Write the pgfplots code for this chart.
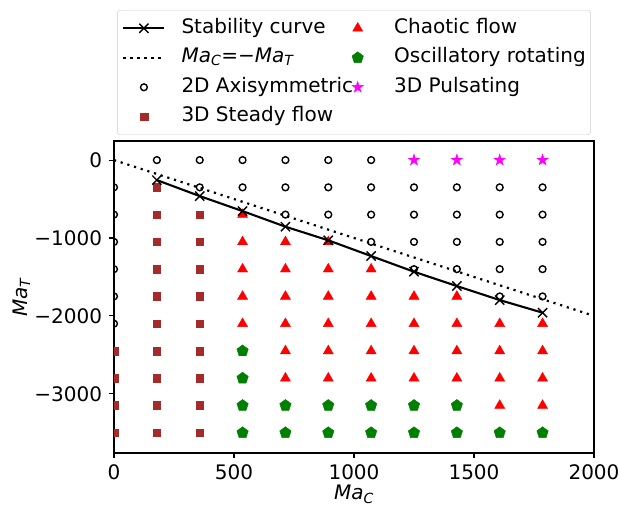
\documentclass[border=0pt]{standalone}
\usepackage{fontspec}
\setmainfont{DejaVu Sans}[ItalicFont={DejaVu Sans Oblique}]
\usepackage{pgfplots}
\pgfplotsset{compat=1.18}

\definecolor{cbrown}{HTML}{A52A2A}
\definecolor{cred}{HTML}{FF0000}
\definecolor{cgreen}{HTML}{008000}
\definecolor{cmag}{HTML}{FF00FF}

% filled five-point star, like matplotlib's '*'
\pgfdeclareplotmark{fstar}{%
  \pgfpathmoveto{\pgfpointpolar{90}{\pgfplotmarksize}}%
  \pgfpathlineto{\pgfpointpolar{126}{0.382\pgfplotmarksize}}%
  \pgfpathlineto{\pgfpointpolar{162}{\pgfplotmarksize}}%
  \pgfpathlineto{\pgfpointpolar{198}{0.382\pgfplotmarksize}}%
  \pgfpathlineto{\pgfpointpolar{234}{\pgfplotmarksize}}%
  \pgfpathlineto{\pgfpointpolar{270}{0.382\pgfplotmarksize}}%
  \pgfpathlineto{\pgfpointpolar{306}{\pgfplotmarksize}}%
  \pgfpathlineto{\pgfpointpolar{342}{0.382\pgfplotmarksize}}%
  \pgfpathlineto{\pgfpointpolar{18}{\pgfplotmarksize}}%
  \pgfpathlineto{\pgfpointpolar{54}{0.382\pgfplotmarksize}}%
  \pgfpathclose
  \pgfusepathqfillstroke
}

\pgfplotsset{
  circ/.style={only marks, mark=o, mark size=3.4pt, color=black, mark options={line width=1.4pt}},
  sq/.style={only marks, mark=square*, mark size=3.8pt, color=cbrown, mark options={line width=0.4pt}},
  tri/.style={only marks, mark=triangle*, mark size=5.8pt, color=cred, mark options={line width=0.4pt}},
  pent/.style={only marks, mark=pentagon*, mark size=6pt, color=cgreen, mark options={line width=0.4pt}},
  star/.style={only marks, mark=fstar, mark size=6pt, color=cmag, mark options={line width=0.4pt}},
  stab/.style={black, line width=2.1pt, mark=x, mark size=6.5pt, mark options={line width=1.4pt}},
  diag/.style={black, line width=2.2pt, dash pattern=on 2.2pt off 4.8pt},
}

\begin{document}
\fontsize{20}{24}\selectfont
\begin{tikzpicture}
\begin{axis}[
    scale only axis, width=480pt, height=312pt,
    xmin=0, xmax=2000, ymin=-3760, ymax=245,
    xtick={0,500,1000,1500,2000},
    ytick={-3000,-2000,-1000,0},
    yticklabels={−3000,−2000,−1000,0},
    /pgf/number format/1000 sep={},
    /pgf/number format/assume math mode=true,
    tick align=outside, tick pos=left,
    major tick length=5pt,
    every tick/.style={black, line width=1.1pt},
    axis line style={line width=1.1pt},
    clip marker paths=true,
    xlabel={\textit{Ma}\textsubscript{\textit{C}}},
    ylabel={\textit{Ma}\textsubscript{\textit{T}}},
    xlabel style={at={(axis description cs:0.5,-0.1506)}, anchor=base},
    ylabel style={at={(axis description cs:-0.18125,0.5)}, anchor=base},
    legend image code/.code={%
      \pgfpathrectangle{\pgfpoint{0pt}{-1pt}}{\pgfpoint{41pt}{2pt}}\pgfusepath{}%
      \draw[mark repeat=2,mark phase=2,#1] plot coordinates {(0pt,0pt)(20.5pt,0pt)(41pt,0pt)};},
    legend columns=2,
    legend cell align=left,
    legend style={at={(axis description cs:0.5,1)}, anchor=south, yshift=6pt,
        draw=black!20, rounded corners=3pt, fill=white,
        inner xsep=5pt, inner ysep=8.3pt, row sep=10.1pt,
        nodes={inner sep=0pt, text height=14.6pt, text depth=4.8pt},
        /tikz/every odd column/.append style={column sep=16pt},
        /tikz/every even column/.append style={column sep=-16pt}},
]
% 2D axisymmetric
\addplot[circ, forget plot] coordinates {
  (0,-350)(0,-700)(0,-1050)(0,-1400)(0,-1750)(0,-2100)
  (178.57,0)
  (357.14,0)(357.14,-350)
  (535.71,0)(535.71,-350)
  (714.29,0)(714.29,-350)(714.29,-700)
  (892.86,0)(892.86,-350)(892.86,-700)
  (1071.43,0)(1071.43,-350)(1071.43,-700)(1071.43,-1050)
  (1250,-350)(1250,-700)(1250,-1050)(1250,-1400)
  (1428.57,-350)(1428.57,-700)(1428.57,-1050)(1428.57,-1400)
  (1607.14,-350)(1607.14,-700)(1607.14,-1050)(1607.14,-1400)(1607.14,-1750)
  (1785.71,-350)(1785.71,-700)(1785.71,-1050)(1785.71,-1400)(1785.71,-1750)};
% 3D steady flow
\addplot[sq, forget plot] coordinates {
  (0,-2450)(0,-2800)(0,-3150)(0,-3500)
  (178.57,-350)(178.57,-700)(178.57,-1050)(178.57,-1400)(178.57,-1750)
  (178.57,-2100)(178.57,-2450)(178.57,-2800)(178.57,-3150)(178.57,-3500)
  (357.14,-700)(357.14,-1050)(357.14,-1400)(357.14,-1750)
  (357.14,-2100)(357.14,-2450)(357.14,-2800)(357.14,-3150)(357.14,-3500)};
% chaotic flow
\addplot[tri, forget plot] coordinates {
  (535.71,-700)(535.71,-1050)(535.71,-1400)(535.71,-1750)(535.71,-2100)
  (714.29,-1050)(714.29,-1400)(714.29,-1750)(714.29,-2100)(714.29,-2450)(714.29,-2800)
  (892.86,-1050)(892.86,-1400)(892.86,-1750)(892.86,-2100)(892.86,-2450)(892.86,-2800)
  (1071.43,-1400)(1071.43,-1750)(1071.43,-2100)(1071.43,-2450)(1071.43,-2800)
  (1250,-1750)(1250,-2100)(1250,-2450)(1250,-2800)
  (1428.57,-1750)(1428.57,-2100)(1428.57,-2450)(1428.57,-2800)
  (1607.14,-2100)(1607.14,-2450)(1607.14,-2800)(1607.14,-3150)
  (1785.71,-2100)(1785.71,-2450)(1785.71,-2800)(1785.71,-3150)};
% oscillatory rotating
\addplot[pent, forget plot] coordinates {
  (535.71,-2450)(535.71,-2800)(535.71,-3150)(535.71,-3500)
  (714.29,-3150)(714.29,-3500)
  (892.86,-3150)(892.86,-3500)
  (1071.43,-3150)(1071.43,-3500)
  (1250,-3150)(1250,-3500)
  (1428.57,-3150)(1428.57,-3500)
  (1607.14,-3500)
  (1785.71,-3500)};
% 3D pulsating
\addplot[star, forget plot] coordinates {
  (1250,0)(1428.57,0)(1607.14,0)(1785.71,0)};
% Ma_C = -Ma_T
\addplot[diag, forget plot] coordinates {(0,0)(2000,-2000)};
% stability curve
\addplot[stab, forget plot] coordinates {
  (178.57,-257)(357.14,-462)(535.71,-655)(714.29,-855)(892.86,-1030)
  (1071.43,-1232)(1250,-1433)(1428.57,-1617)(1607.14,-1797)(1785.71,-1959)};

\addlegendimage{stab}
\addlegendentry{Stability curve}
\addlegendimage{tri}
\addlegendentry{Chaotic flow}
\addlegendimage{diag}
\addlegendentry{\textit{Ma}\textsubscript{\textit{C}}=−\textit{Ma}\textsubscript{\textit{T}}}
\addlegendimage{pent}
\addlegendentry{Oscillatory rotating}
\addlegendimage{circ}
\addlegendentry{2D Axisymmetric}
\addlegendimage{star}
\addlegendentry{3D Pulsating}
\addlegendimage{sq}
\addlegendentry{3D Steady flow}
\end{axis}
\pgfresetboundingbox
\path[use as bounding box] ([xshift=-114pt,yshift=-54pt]current axis.south west)
  rectangle ([xshift=26pt,yshift=141pt]current axis.north east);
\end{tikzpicture}
\end{document}
